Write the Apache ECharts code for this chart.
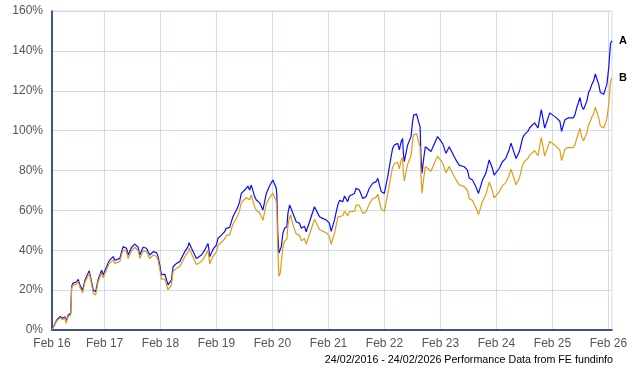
<!DOCTYPE html>
<html><head><meta charset="utf-8">
<script src="https://cdn.jsdelivr.net/npm/echarts@6/dist/echarts.min.js"></script>
<style>html,body{margin:0;padding:0;background:#fff}#c{width:640px;height:370px}</style>
</head><body><div id="c"></div>
<script>
const dates = [
'2016-02-24','2016-02-29','2016-03-26','2016-04-16','2016-05-04','2016-05-19','2016-05-25','2016-06-09','2016-06-25','2016-07-01','2016-07-08','2016-08-03','2016-08-13','2016-08-24','2016-09-11','2016-09-26','2016-10-11','2016-10-24','2016-11-08','2016-11-19','2016-12-05','2016-12-21',
'2017-01-13','2017-01-23','2017-02-14','2017-03-03','2017-03-29','2017-04-09','2017-05-12','2017-05-23','2017-06-02','2017-06-13','2017-06-24','2017-07-05','2017-07-27','2017-08-17','2017-08-28','2017-09-08','2017-09-19','2017-10-10','2017-11-02','2017-11-12','2017-11-23','2017-12-15',
'2018-01-06','2018-01-16','2018-01-27','2018-02-07','2018-03-01','2018-03-22','2018-04-13','2018-04-24','2018-05-16','2018-06-06','2018-06-28','2018-07-09','2018-07-30','2018-08-06','2018-08-22','2018-09-12','2018-09-23','2018-10-26','2018-11-16','2018-12-08','2018-12-19',
'2019-01-09','2019-01-31','2019-02-11','2019-03-05','2019-03-26','2019-04-06','2019-04-28','2019-05-19','2019-06-11','2019-06-21','2019-07-02','2019-07-13','2019-07-24','2019-08-15','2019-08-25','2019-09-05','2019-09-16','2019-10-08','2019-10-19','2019-11-09','2019-12-01','2019-12-23',
'2020-01-13','2020-02-04','2020-02-15','2020-02-26','2020-03-01','2020-03-07','2020-03-14','2020-03-23','2020-03-30','2020-04-09','2020-04-20','2020-05-05','2020-05-12','2020-05-23','2020-05-29','2020-06-18','2020-07-05','2020-07-27','2020-08-07','2020-08-28','2020-09-08','2020-09-30','2020-11-01','2020-11-23','2020-12-04','2020-12-25',
'2021-01-17','2021-02-07','2021-02-18','2021-03-12','2021-03-23','2021-04-02','2021-04-13','2021-05-05','2021-05-16','2021-06-06','2021-06-17','2021-07-20','2021-07-31','2021-08-21','2021-09-12','2021-10-04','2021-10-25','2021-11-16','2021-12-08','2021-12-19',
'2022-01-10','2022-01-31','2022-02-22','2022-03-05','2022-03-16','2022-03-26','2022-04-06','2022-04-28','2022-05-09','2022-05-20','2022-05-30','2022-06-04','2022-06-10','2022-07-02','2022-07-24','2022-08-03','2022-08-10','2022-08-29','2022-09-11','2022-09-21','2022-09-27','2022-10-04','2022-10-12','2022-10-25','2022-12-01',
'2023-01-03','2023-01-13','2023-02-15','2023-03-09','2023-03-30','2023-05-02','2023-05-13','2023-06-03','2023-07-06','2023-07-27','2023-08-08','2023-08-29','2023-09-20','2023-10-07','2023-11-02','2023-11-24','2023-12-16',
'2024-01-06','2024-01-17','2024-02-19','2024-03-11','2024-04-02','2024-04-24','2024-05-06','2024-05-28','2024-06-08','2024-06-30','2024-07-21','2024-08-02','2024-08-24','2024-09-04','2024-10-07','2024-10-29','2024-11-20','2024-12-12',
'2025-01-03','2025-01-14','2025-02-27','2025-03-21','2025-04-01','2025-04-23','2025-05-15','2025-06-17','2025-06-28','2025-07-09','2025-07-20','2025-07-30','2025-08-10','2025-08-22','2025-09-13','2025-09-24','2025-10-05','2025-10-16','2025-10-27','2025-11-07','2025-11-29','2025-12-10',
'2026-01-01','2026-01-22','2026-02-03','2026-02-14','2026-02-24'
];
const seriesA = [
0,1,5,6.7,5.9,6.7,4.2,7.5,8.4,21.7,23.4,24.2,25.4,22.6,20,25,27.6,29.7,24.2,20,19.2,25.4,
30,27.6,31.7,34.8,36.8,35,35.9,39.3,41.8,42.6,41,37.6,41.5,43.1,43.8,41.5,37.6,41.5,41,39.3,37.6,39.3,
38.8,36.8,32.6,27.6,28,22.6,25,31.7,33.4,34.3,37.6,39.3,41.8,43.8,41,37.6,35.9,37.6,40.1,43.4,36.8,
40.4,42.6,46,47.6,49.3,51,51.5,56.8,60.2,61.8,64.4,68.5,69.4,71.1,72.2,70.2,72.7,66.9,65.2,63.9,60.2,68.5,
72.2,75.2,75.6,71.1,67,48.5,38.5,37.6,41.8,48.5,51,51.8,58.5,62.7,63.5,57.7,54.3,53.5,51,52,49.3,54.3,61.8,58.5,56.8,56,
55.2,53.5,49.5,55.2,59.3,62.5,65,64.4,67.2,64.4,67.2,68.5,71.1,70.2,66,66.9,71.1,73.6,74.4,76.1,
69.5,68.5,76.9,81.9,86.9,91.1,92.8,93.6,90.3,94.4,96.1,88.6,84.4,92.8,97,104.5,107.8,108.3,104.5,102,86.9,78.6,84.4,91.9,89.5,
95.3,97,93.6,88.6,91.9,86.9,85.3,82.7,81.9,80.2,76.1,75.2,71.9,68.5,75.2,78.6,85.3,
81.1,77.7,81,84.4,86.1,90.3,93.7,88.6,86,89.5,96.3,98,99.6,101.3,103.9,101.3,110.6,101.3,
106.4,108.9,106.4,104.7,99.6,105.5,106.4,106.4,108.1,111.5,114.1,116.6,112.4,110.6,114.8,119.1,120.8,123.3,125,128.4,123.3,119.1,
118.2,123.3,131.8,143.7,145
];
const seriesB = [
0,0.8,4.5,6.1,5.2,6.1,3.4,6.9,7.5,20.8,22.4,23.1,24.3,21.4,18.6,24,26.5,28.6,22.9,18.3,17.6,24.2,
28.7,26.2,30.3,33.3,35.2,33.4,34.4,37.8,40.2,41,39.4,35.8,39.9,41.5,42.2,39.9,35.9,39.8,39.3,37.6,35.8,37.6,
37,35,30.6,25.4,25.7,20.2,22.6,29.3,31,31.8,35,36.7,39.1,41.1,38.2,34.7,32.9,34.4,36.8,40,33.2,
36.9,39.1,42.5,44,45.7,47.3,47.8,52.9,56.2,57.6,60.1,64,64.8,66.3,67.3,65.3,67.7,61.8,60.1,58.8,55,63.4,
66.3,68.6,69,64.6,60.5,40,27,28.5,34,41.5,44.5,45.6,52.3,56.6,57.8,51.6,48.2,47.4,44.8,45.8,43,48,55.5,52.2,50.4,49.6,
48.8,47,43,48.6,52.6,56.5,57.5,57.4,59.5,57.3,59.3,59.5,62.8,62.5,58.5,59.3,63.4,65.8,66.5,68.1,
60.8,59.5,68.2,73,77.8,81.8,83.4,84.1,80.8,84.9,86.6,79,74.8,83.2,87.4,94.8,98,98.4,94.6,92,76.8,68.5,74.4,82,79.6,
85.5,87.2,83.8,78.8,82,77,75.4,72.8,71.9,70.1,65.9,65,61.4,57.9,64.5,67.8,74.2,
69.8,66.3,69.3,72.4,73.8,77.6,80.7,75.5,72.8,76.2,82.8,84.5,86,87.6,90,87.4,96.6,87.2,
92.2,94.6,92,90.2,85,90.8,91.6,91.4,93,96.2,98.7,101.1,96.8,94.9,98.9,103,104.6,106.9,108.5,111.7,106.5,102.3,
101.3,106,113.6,124.5,126.5
];
const xTickDates = ['2016-02-24','2017-02-01','2018-02-01','2019-02-01','2020-02-01','2021-02-01','2022-02-01','2023-02-01','2024-02-01','2025-02-01','2026-02-01'];
const xTickLabels = ['Feb 16','Feb 17','Feb 18','Feb 19','Feb 20','Feb 21','Feb 22','Feb 23','Feb 24','Feb 25','Feb 26'];
const footer = '24/02/2016 - 24/02/2026 Performance Data from FE fundinfo';

function ts(s){const p=s.split('-');return Date.UTC(+p[0],+p[1]-1,+p[2]);}
const tickTs = xTickDates.map(ts);
const FONT = '"Liberation Sans", Arial, sans-serif';
const GRID = '#cfdde7';
const AXIS = '#0c2273';

const chart = echarts.init(document.getElementById('c'), null, {renderer:'canvas'});
chart.setOption({
  animation:false,
  grid:{left:52,right:28,top:11,bottom:40,show:true,borderColor:GRID,borderWidth:1},
  xAxis:{
    type:'value', min:ts('2016-02-24'), max:ts('2026-02-24'),
    axisLine:{lineStyle:{color:AXIS,width:1.5}},
    axisTick:{show:false,customValues:tickTs},
    splitLine:{show:true,lineStyle:{color:GRID,width:1}},
    axisLabel:{customValues:tickTs,formatter:function(v){const i=tickTs.indexOf(v);return i>=0?xTickLabels[i]:'';},
      color:'#555',fontFamily:FONT,fontSize:12,margin:8,showMinLabel:true,showMaxLabel:true,hideOverlap:false}
  },
  yAxis:{
    type:'value',min:0,max:160,interval:20,
    axisLine:{show:true,lineStyle:{color:AXIS,width:1.5}},
    axisTick:{show:false},
    splitLine:{lineStyle:{color:GRID,width:1}},
    axisLabel:{formatter:'{value}%',color:'#555',fontFamily:FONT,fontSize:12,margin:9}
  },
  graphic:[{type:'text',right:27,bottom:4,style:{text:footer,fill:'#000',font:'10.7px '+FONT}}],
  series:[
    {name:'A',type:'line',data:dates.map((d,i)=>[ts(d),seriesA[i]]),showSymbol:false,
     lineStyle:{color:'#0b0bff',width:1.2},itemStyle:{color:'#0b0bff'},
     endLabel:{show:true,formatter:'A',color:'#000',fontWeight:'bold',fontSize:11,fontFamily:FONT,distance:7}},
    {name:'B',type:'line',data:dates.map((d,i)=>[ts(d),seriesB[i]]),showSymbol:false,
     lineStyle:{color:'#e09c17',width:1.2},itemStyle:{color:'#e09c17'},
     endLabel:{show:true,formatter:'B',color:'#000',fontWeight:'bold',fontSize:11,fontFamily:FONT,distance:7}}
  ]
});
</script></body></html>
